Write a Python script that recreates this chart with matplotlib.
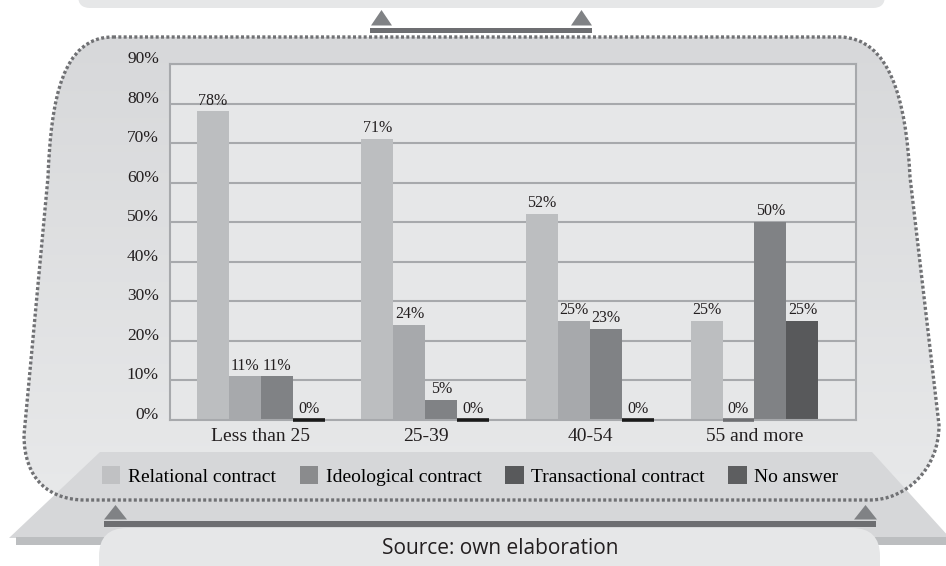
import numpy as np
import matplotlib
matplotlib.use("Agg")
import matplotlib.pyplot as plt
from matplotlib.patches import Polygon, Rectangle, FancyBboxPatch, PathPatch, Patch
from matplotlib.path import Path
from matplotlib.colors import LinearSegmentedColormap
import matplotlib.transforms as mtransforms

# ---- data -------------------------------------------------------------
categories = ["Less than 25", "25-39", "40-54", "55 and more"]
relational = [78, 71, 52, 25]
ideological = [11, 24, 25, 0]
transactional = [11, 5, 23, 50]
no_answer = [0, 0, 0, 25]
series_names = ["Relational contract", "Ideological contract",
                "Transactional contract", "No answer"]
y_ticks = [0, 10, 20, 30, 40, 50, 60, 70, 80, 90]
source_note = "Source: own elaboration"

# ---- styling ----------------------------------------------------------
bar_colors = ["#bcbec0", "#a7a9ac", "#808285", "#58595b"]
legend_colors = ["#c0c1c3", "#8a8b8d", "#58595b", "#5d5e60"]
zero_colors = [None, "#6d6e71", None, "#1a1a1a"]
serif = "Liberation Serif"

W, H = 946, 566
fig = plt.figure(figsize=(W / 100, H / 100), dpi=100)
fig.patch.set_facecolor("white")

# background canvas in pixel units (y grows downward)
bg = fig.add_axes([0, 0, 1, 1], zorder=0)
bg.axis("off")

# top tab
bg.add_patch(FancyBboxPatch((78, -40), 807, 48,
                            boxstyle="round,pad=0,rounding_size=12",
                            fc="#e6e7e8", ec="none", zorder=1))
# connector under the top tab
bg.add_patch(Rectangle((370, 27.5), 222, 5.5, fc="#6d6e71", ec="none", zorder=2))
for x0 in (371, 571):
    bg.add_patch(Polygon([(x0, 25.5), (x0 + 21, 25.5), (x0 + 10.5, 10)],
                         closed=True, fc="#808285", ec="none", zorder=2))

# monitor-like frame around the chart
verts = [
    (113, 37), (840, 37),
    (890, 38), (906, 100), (910, 177),
    (939, 425),
    (939, 470), (905, 500), (870, 500),
    (85, 500),
    (50, 500), (24, 480), (24, 435),
    (48, 177),
    (51, 100), (62, 37), (113, 37),
    (113, 37),
]
codes = [Path.MOVETO, Path.LINETO,
         Path.CURVE4, Path.CURVE4, Path.CURVE4,
         Path.LINETO,
         Path.CURVE4, Path.CURVE4, Path.CURVE4,
         Path.LINETO,
         Path.CURVE4, Path.CURVE4, Path.CURVE4,
         Path.LINETO,
         Path.CURVE4, Path.CURVE4, Path.CURVE4,
         Path.CLOSEPOLY]
frame_path = Path(verts, codes)
frame_fill = PathPatch(frame_path, fc="none", ec="none", zorder=1)
bg.add_patch(frame_fill)
grad_cmap = LinearSegmentedColormap.from_list("frame", ["#d7d8da", "#e8e9ea"])
grad = bg.imshow(np.linspace(0, 1, 256).reshape(-1, 1), cmap=grad_cmap,
                 extent=(20, 945, 502, 35), origin="upper",
                 aspect="auto", zorder=1, interpolation="bilinear")
grad.set_clip_path(frame_fill)

# stand / base
bg.add_patch(Polygon([(100, 452), (872, 452), (950, 538), (9, 538)],
                     closed=True, fc="#d6d7d9", ec="none", zorder=2))
bg.add_patch(Rectangle((16, 537), 940, 7.5, fc="#bcbec0", ec="none", zorder=2))

# dotted outline of the frame
bg.add_patch(PathPatch(frame_path, fc="none", ec="#707174", lw=2.4,
                       linestyle=(0, (0.9, 0.7)), zorder=3))

# bottom caption box
bg.add_patch(FancyBboxPatch((99, 528), 781, 70,
                            boxstyle="round,pad=0,rounding_size=28",
                            fc="#e6e7e8", ec="none", zorder=4))
bg.add_patch(Rectangle((104, 521), 772, 6, fc="#6d6e71", ec="none", zorder=5))
for x0 in (104, 854):
    bg.add_patch(Polygon([(x0, 519.5), (x0 + 23, 519.5), (x0 + 11.5, 505)],
                         closed=True, fc="#808285", ec="none", zorder=5))
bg.text(500, 548, source_note, ha="center", va="center",
        fontsize=15, family="Open Sans", color="#231f20", zorder=6)

bg.set_xlim(0, W)
bg.set_ylim(H, 0)

# ---- bar chart --------------------------------------------------------
ax = fig.add_axes([170 / W, 1 - 420 / H, 686 / W, 356 / H], zorder=2)
ax.set_facecolor("#e6e7e8")

series = [relational, ideological, transactional, no_answer]
x = np.arange(len(categories))
width = 0.1945
offsets = (np.arange(len(series)) - 1.5) * width

for vals, off, color, zc in zip(series, offsets, bar_colors, zero_colors):
    pos = x + off
    ax.bar(pos, vals, width, color=color, linewidth=0, zorder=2)
    for px, v in zip(pos, vals):
        if v == 0 and zc is not None:
            ax.hlines(0, px - width / 2, px + width / 2, color=zc, lw=2.6,
                      zorder=4, clip_on=False)
        ax.annotate(f"{v}%", (px, v), xytext=(0, 5), textcoords="offset points",
                    ha="center", va="baseline", fontsize=11.5, family=serif,
                    color="#231f20", zorder=5)

ax.set_xlim(-0.553, 3.617)
ax.set_ylim(0, 90)
ax.set_yticks(y_ticks)
ax.set_yticklabels([f"{t}%" for t in y_ticks], family=serif, fontsize=12.5,
                   color="#231f20")
ax.set_xticks(x)
ax.set_xticklabels(categories, family=serif, fontsize=14, color="#231f20")
ax.tick_params(axis="y", length=0, pad=8)
ax.tick_params(axis="x", length=0, pad=5.5)
ax.yaxis.grid(True, color="#a7a9ac", lw=1.5)
ax.set_axisbelow(True)
for side, sp in ax.spines.items():
    sp.set_color("#a7a9ac")
    sp.set_linewidth(1.5)

# y labels sit slightly above their gridlines
lift = mtransforms.ScaledTranslation(0, 0.07, fig.dpi_scale_trans)
for lbl in ax.get_yticklabels():
    lbl.set_transform(lbl.get_transform() + lift)

handles = [Patch(facecolor=c, edgecolor="none") for c in legend_colors]
ax.legend(handles, series_names, ncol=4, loc="center left",
          bbox_to_anchor=(102 / W, 1 - 476 / H), bbox_transform=fig.transFigure,
          frameon=False, borderpad=0, borderaxespad=0,
          handlelength=0.95, handleheight=1.0, handletextpad=0.4,
          columnspacing=1.2, prop={"family": serif, "size": 14})

fig.savefig("out.png", dpi=100, facecolor="white")
